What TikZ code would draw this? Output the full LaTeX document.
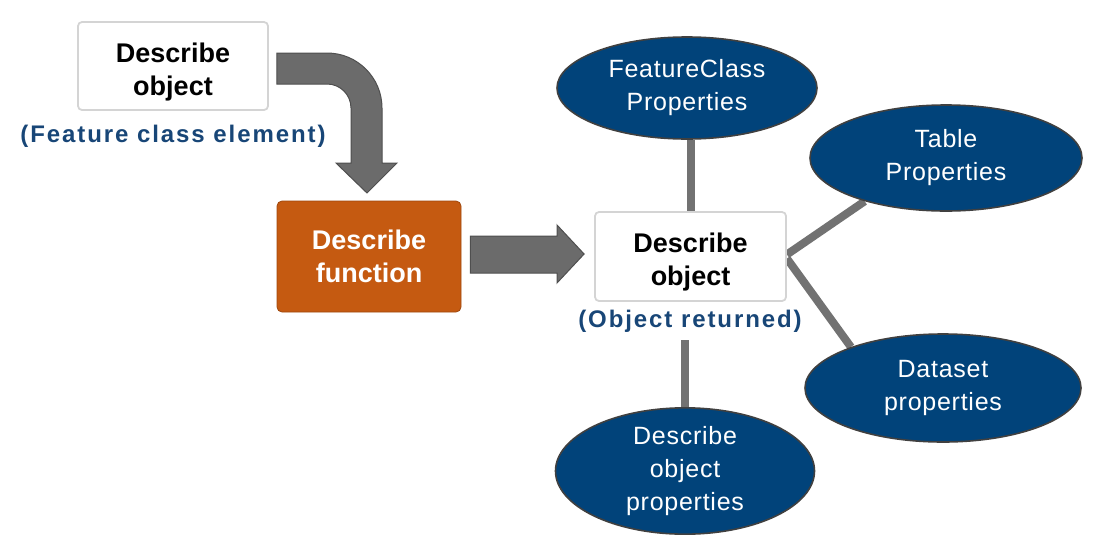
\documentclass[tikz,border=0pt]{standalone}
\usepackage{fontspec}
\setmainfont{Liberation Sans}
\newfontfamily\capfont{Liberation Sans}[LetterSpace=8]
\newfontfamily\ellfont{Liberation Sans}[LetterSpace=3]
\usetikzlibrary{shapes.geometric,calc,backgrounds}
\definecolor{capblue}{HTML}{184677}
\definecolor{ellblue}{HTML}{01437A}
\definecolor{ellline}{HTML}{404040}
\definecolor{funcorange}{HTML}{C55A11}
\definecolor{arrowgray}{HTML}{6B6B6B}
\definecolor{arrowline}{HTML}{4F4F4F}
\definecolor{linkgray}{HTML}{727272}
\tikzset{
  whitebox/.style={rectangle, rounded corners=4pt, fill=white, draw=black!17, line width=1.8pt,
    align=center, font=\bfseries\fontsize{27}{33}\selectfont, inner sep=0pt,
    text height=63pt, text depth=5pt},
  funcbox/.style={rectangle, rounded corners=5pt, fill=funcorange, draw=funcorange!80!black, line width=0.8pt,
    align=center, text=white, font=\bfseries\fontsize{27}{33}\selectfont, inner sep=0pt},
  caption/.style={text=capblue, font=\capfont\bfseries\fontsize{24}{28}\selectfont, inner sep=0pt},
  prop/.style={ellipse, fill=ellblue, draw=ellline, line width=1.6pt, text=white, align=center,
    font=\ellfont\fontsize{25}{33}\selectfont, inner sep=0pt},
  bigarrow/.style={fill=arrowgray, draw=arrowline, line width=1pt, line join=miter},
  link/.style={draw=linkgray, line width=8pt}
}
\begin{document}
\begin{tikzpicture}[x=1pt,y=-1pt]
\useasboundingbox (0,0) rectangle (1095,544);
% boxes
\node[whitebox, minimum width=190pt, minimum height=88pt] (obj1) at (173,66) {Describe\\object};
\node[caption] (cap1) at (173,136) {(Feature class element)};
\node[funcbox, minimum width=184pt, minimum height=111pt] (func) at (369,256.5) {Describe\\function};
\node[whitebox, minimum width=191pt, minimum height=89pt] (obj2) at (690.5,256.5) {Describe\\object};
\node[caption] (cap2) at (690,321) {(Object returned)};
% ellipses
\node[prop, minimum width=260pt, minimum height=102pt] (e1) at (687,88) {FeatureClass\\Properties};
\node[prop, minimum width=272pt, minimum height=106pt] (e2) at (946,158) {Table\\Properties};
\node[prop, minimum width=276pt, minimum height=108pt] (e3) at (943,388) {Dataset\\properties};
\node[prop, minimum width=259pt, minimum height=110pt] (e4) at (685,471) {Describe\\object\\properties};
% links
\begin{scope}[on background layer]
\draw[link] (e1.south -| obj2.north) -- (obj2.north);
\draw[link] ($(obj2.east)+(0,-2)$) -- (e2.208);
\draw[link] ($(obj2.east)+(0,2)$) -- (e3.156);
\draw[link] ($(cap2.south -| e4.north)+(0,8)$) -- (e4.north);
\end{scope}
% curved arrow
\draw[bigarrow] ($(obj1.east)+(8,-13)$) -- (327,53) arc[start angle=90, end angle=0, radius=55pt]
  -- (382,163) -- (397,163) -- (367,193) -- (336,163) -- (351,163) -- (351,108)
  arc[start angle=0, end angle=90, radius=24pt] -- ($(obj1.east)+(8,18)$) -- cycle;
% straight arrow
\draw[bigarrow] ($(func.east)+(9,-20.5)$) -- (557,236) -- (557,225) -- ($(obj2.west)+(-10,-2.5)$)
  -- (557,283) -- (557,273) -- ($(func.east)+(9,16.5)$) -- cycle;
\end{tikzpicture}
\end{document}
